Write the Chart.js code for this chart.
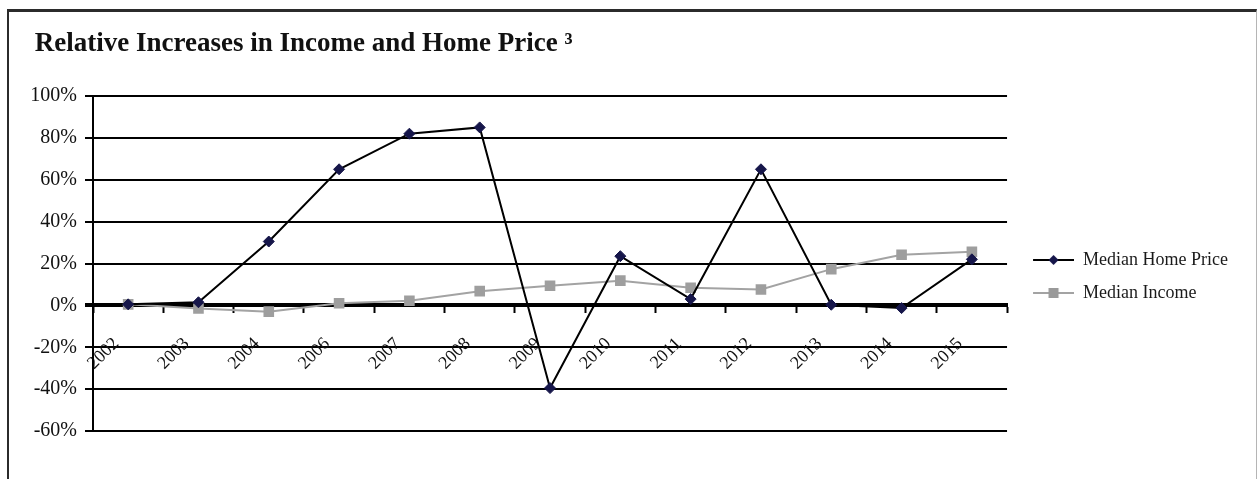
<!DOCTYPE html>
<html>
<head>
<meta charset="utf-8">
<script src="https://cdn.jsdelivr.net/npm/chart.js@4/dist/chart.umd.min.js"></script>
<style>
    html, body { margin: 0; padding: 0; background: #fff; }
    #wrap { position: relative; width: 1257px; height: 479px; overflow: hidden; }
    #frame {
        position: absolute; left: 7px; top: 9px; width: 1247px; height: 468px;
        border-left: 2px solid #2b2b2b; border-top: 3px solid #2b2b2b;
        border-right: 1px solid #b5b5b5; border-bottom: 1px solid #b5b5b5;
    }
    #chart { position: absolute; left: 0; top: 0; }
</style>
</head>
<body>
<div id="wrap">
    <div id="frame"></div>
    <canvas id="chart" width="1257" height="479"></canvas>
</div>
<script>
const years = ['2002', '2003', '2004', '2006', '2007', '2008', '2009', '2010', '2011', '2012', '2013', '2014', '2015'];
const homePrice = [0.5, 1.5, 30.5, 65, 82, 85, -39.5, 23.5, 3, 65, 0.3, -1.3, 22];
const income = [0.5, -1.5, -3, 1, 2.2, 6.8, 9.4, 11.8, 8.4, 7.6, 17.3, 24.2, 25.6];
const yTicks = [-60, -40, -20, 0, 20, 40, 60, 80, 100];

const serif = "'Liberation Serif', 'Times New Roman', serif";
const navy = '#16164a';
const grey = '#a3a3a3';

// legend swatch: short line with the marker in the middle, transparent gap on the left
function swatch(lineColor, draw) {
    const c = document.createElement('canvas');
    c.width = 52; c.height = 16;
    const g = c.getContext('2d');
    g.strokeStyle = lineColor;
    g.lineWidth = 2;
    g.beginPath(); g.moveTo(11, 8); g.lineTo(52, 8); g.stroke();
    draw(g, 31.5, 8);
    return c;
}
const homeSwatch = swatch('#000', (g, x, y) => {
    g.fillStyle = navy;
    g.beginPath(); g.moveTo(x, y - 5); g.lineTo(x + 5, y); g.lineTo(x, y + 5); g.lineTo(x - 5, y); g.closePath(); g.fill();
});
const incomeSwatch = swatch(grey, (g, x, y) => {
    g.fillStyle = '#999';
    g.fillRect(x - 5, y - 5, 10, 10);
});

new Chart(document.getElementById('chart').getContext('2d'), {
    type: 'line',
    data: {
        labels: years,
        datasets: [
            {
                label: 'Median Home Price', data: homePrice,
                borderColor: '#000', borderWidth: 2, backgroundColor: navy,
                pointStyle: 'rectRot', pointRadius: 5.5, pointBackgroundColor: navy, pointBorderColor: navy, pointBorderWidth: 1,
                tension: 0,
            },
            {
                label: 'Median Income', data: income,
                borderColor: grey, borderWidth: 2, backgroundColor: '#999',
                pointStyle: 'rect', pointRadius: 7.5, pointBackgroundColor: '#9e9e9e', pointBorderColor: '#9e9e9e', pointBorderWidth: 0,
                tension: 0,
            },
        ],
    },
    options: {
        responsive: false,
        animation: false,
        layout: { padding: { top: 10, left: 28, right: 19, bottom: 48 } },
        font: { family: serif },
        scales: {
            x: {
                position: { y: 0 },
                offset: true,
                grid: { offset: true, drawOnChartArea: false, drawTicks: true, tickLength: 6, tickWidth: 2, tickColor: '#000' },
                border: { color: '#000', width: 4 },
                ticks: {
                    color: '#111', font: { family: serif, size: 18 },
                    minRotation: 45, maxRotation: 45, padding: 22, labelOffset: -12, autoSkip: false,
                },
            },
            y: {
                min: -60, max: 100,
                afterBuildTicks: (s) => { s.ticks = yTicks.map(v => ({ value: v })); },
                afterFit: (s) => { s.width = 65; },
                grid: {
                    color: '#000',
                    lineWidth: (c) => (c.tick && c.tick.value === 0 ? 4 : 2),
                    tickLength: 8,
                },
                border: { color: '#000', width: 2 },
                ticks: { color: '#111', font: { family: serif, size: 20 }, padding: 8, callback: (v) => v + '%' },
            },
        },
        plugins: {
            title: {
                display: true, align: 'start',
                text: ' Relative Increases in Income and Home Price \u00b3',
                color: '#111', font: { family: serif, size: 27, weight: 'bold' },
                padding: { top: 18, bottom: 35.6 },
            },
            legend: {
                position: 'right', align: 'center', fullSize: false,
                title: { display: true, text: ' ', font: { size: 10 }, padding: { top: 14, bottom: 0 } },
                labels: {
                    usePointStyle: true, pointStyleWidth: 52, padding: 15,
                    color: '#1a1a1a', font: { family: serif, size: 18 },
                    generateLabels: (chart) => chart.data.datasets.map((d, i) => ({
                        text: d.label, pointStyle: i === 0 ? homeSwatch : incomeSwatch, fontColor: '#1a1a1a',
                        fillStyle: 'transparent', strokeStyle: 'transparent', lineWidth: 0, datasetIndex: i,
                    })),
                },
            },
            tooltip: { enabled: false },
        },
    },
});
</script>
</body>
</html>
